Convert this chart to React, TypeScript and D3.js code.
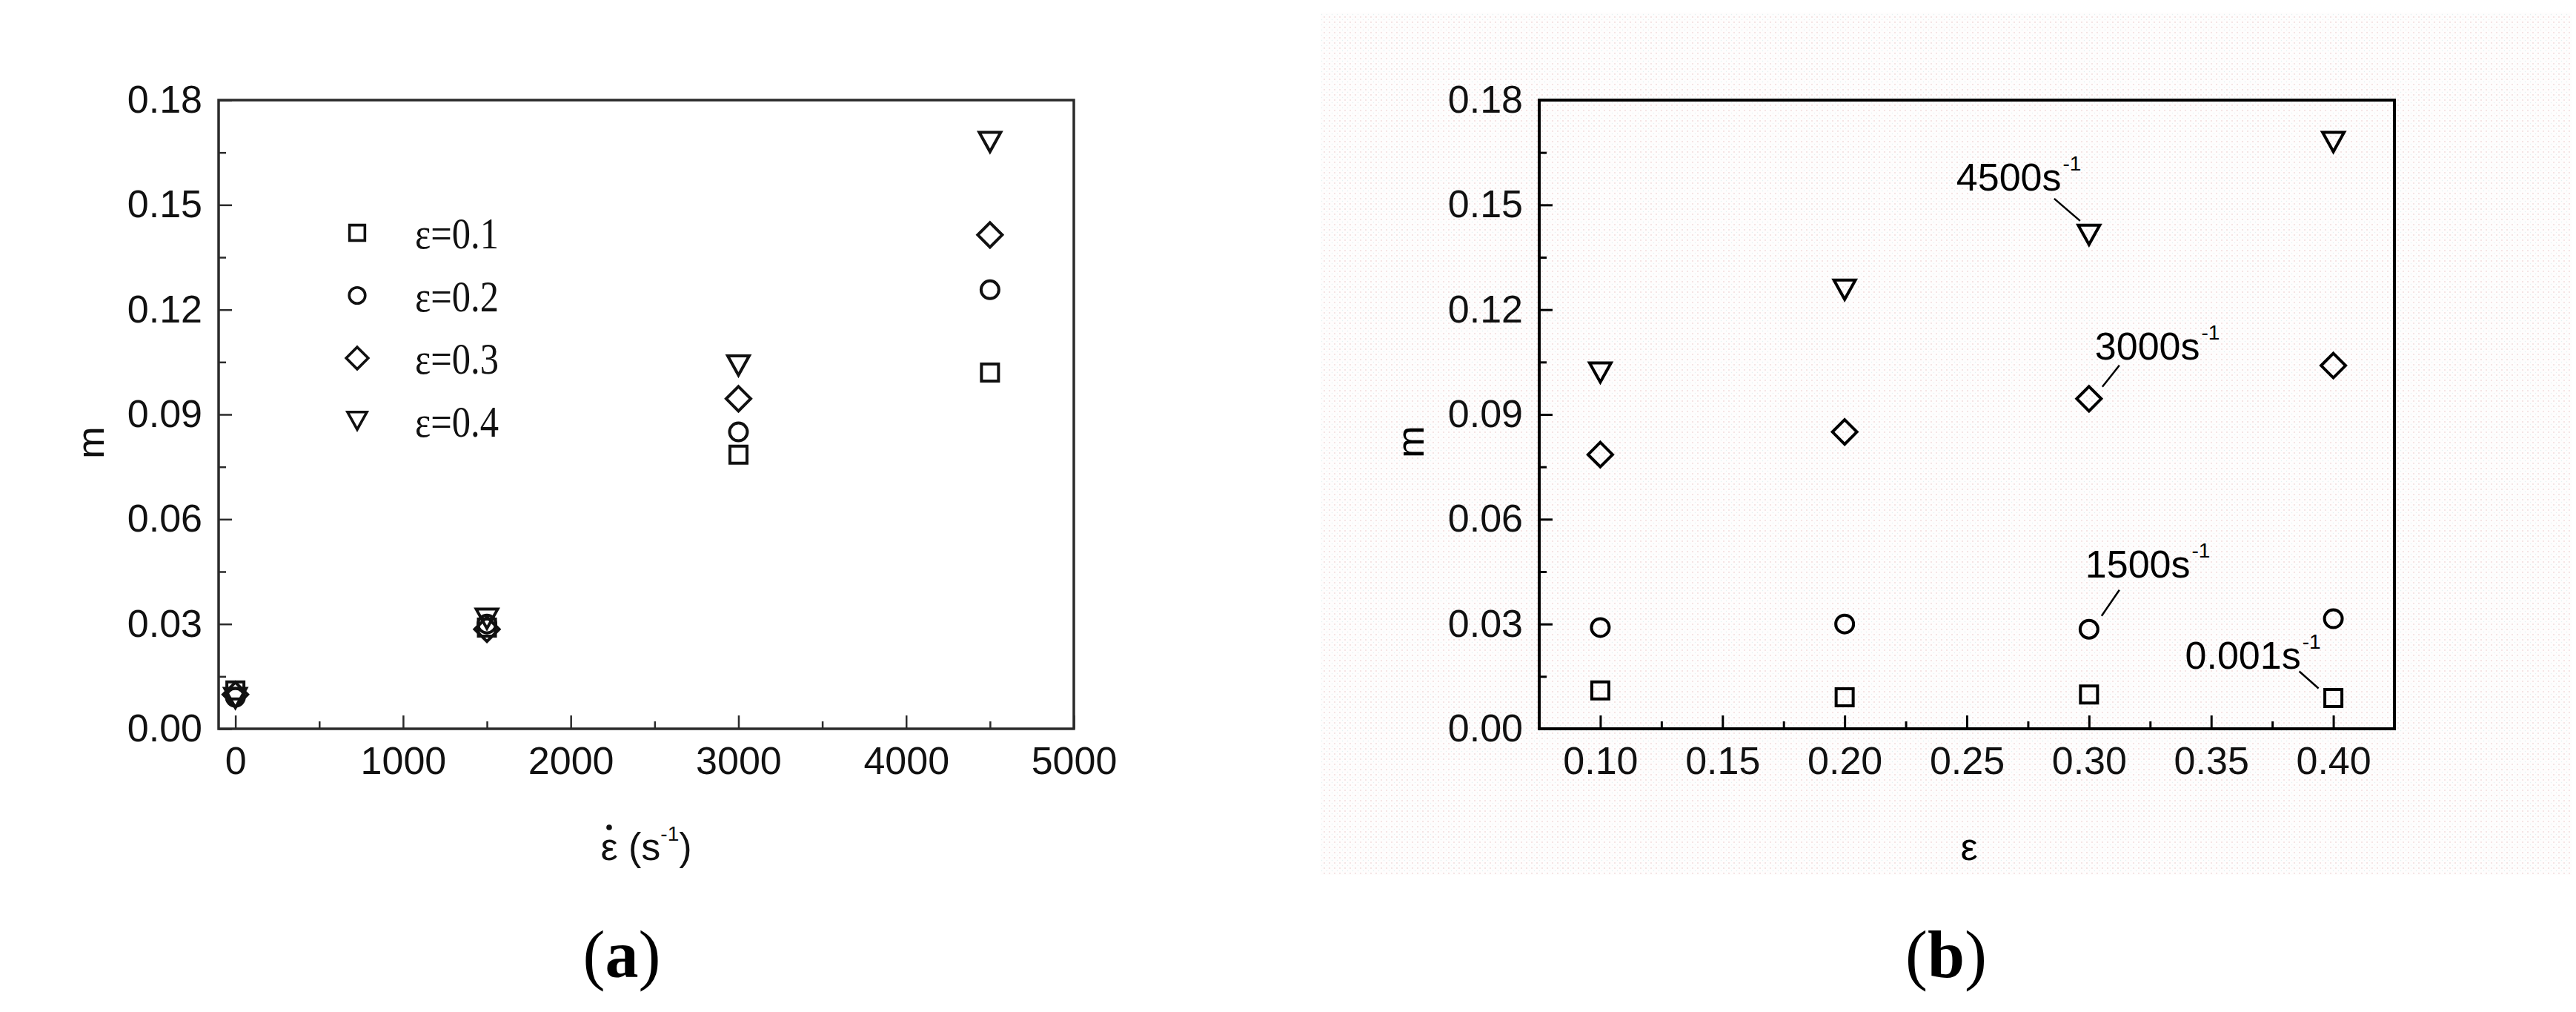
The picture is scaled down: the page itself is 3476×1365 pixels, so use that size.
import React, { useEffect, useRef } from 'react';
import * as d3 from 'd3';

// strain (ε) and strain-rate categories
const strains = [0.1, 0.2, 0.3, 0.4];
const rates = [0.001, 1500, 3000, 4500];
const rateLabels = ['0.001', '1500', '3000', '4500'];
const legendLabels = ['ε=0.1', 'ε=0.2', 'ε=0.3', 'ε=0.4'];

// strain rate sensitivity m, one array per strain rate, ordered by strain
const mRate0001 = [0.011, 0.009, 0.0098, 0.0088];
const mRate1500 = [0.029, 0.03, 0.0285, 0.0315];
const mRate3000 = [0.0785, 0.085, 0.0945, 0.104];
const mRate4500 = [0.102, 0.1257, 0.1414, 0.168];
const mByRate = [mRate0001, mRate1500, mRate3000, mRate4500];

// axis ticks
const yTicks = [0, 0.03, 0.06, 0.09, 0.12, 0.15, 0.18];
const yMinor = [0.015, 0.045, 0.075, 0.105, 0.135, 0.165];
const xTicksA = [0, 1000, 2000, 3000, 4000, 5000];
const xMinorA = [500, 1500, 2500, 3500, 4500];
const xTicksB = [0.1, 0.15, 0.2, 0.25, 0.3, 0.35, 0.4];
const xMinorB = [0.125, 0.175, 0.225, 0.275, 0.325, 0.375];

const W = 3476;
const H = 1365;
const PW = 1154;
const PH = 848;
const FONT = 'Liberation Sans, Arial, sans-serif';
const SERIF = 'Liberation Serif, Times New Roman, serif';

// hollow symbols: square, circle, diamond, down triangle
function symbolPath(kind: number): string {
  if (kind === 0) return 'M-11.5,-11.5H11.5V11.5H-11.5Z';
  if (kind === 1) {
    const p = d3.path();
    p.arc(0, 0, 12, 0, Math.PI * 2);
    p.closePath();
    return p.toString();
  }
  if (kind === 2) return 'M0,-16.5L16.5,0L0,16.5L-16.5,0Z';
  return 'M-14.5,-13H14.5L0,13Z';
}

function drawAxes(g: any, x: any, y: any, xTicks: number[], xMinor: number[], xFmt: (d: any) => string, frame: string, tickW: number) {
  const style = (s: any) => {
    s.select('.domain').remove();
    s.attr('font-size', 52).attr('font-family', FONT);
    s.selectAll('text').attr('fill', '#111');
    s.selectAll('line').attr('stroke', frame).attr('stroke-width', tickW);
  };
  g.append('g')
    .call(d3.axisLeft(y).tickValues(yTicks).tickSize(-18).tickSizeOuter(0).tickPadding(22).tickFormat(d3.format('.2f')))
    .call(style);
  g.append('g')
    .call(d3.axisLeft(y).tickValues(yMinor).tickSize(-10).tickSizeOuter(0).tickFormat(() => ''))
    .call(style);
  g.append('g')
    .attr('transform', `translate(0,${PH})`)
    .call(d3.axisBottom(x).tickValues(xTicks).tickSize(-18).tickSizeOuter(0).tickPadding(24).tickFormat(xFmt))
    .call(style);
  g.append('g')
    .attr('transform', `translate(0,${PH})`)
    .call(d3.axisBottom(x).tickValues(xMinor).tickSize(-10).tickSizeOuter(0).tickFormat(() => ''))
    .call(style);
}

export default function App() {
  const svgRef = useRef<SVGSVGElement | null>(null);

  useEffect(() => {
    document.body.style.margin = '0';
    document.body.style.overflow = 'hidden';
    const svg = d3.select(svgRef.current);
    svg.selectAll('*').remove();

    // faint dotted backdrop behind panel (b)
    const pat = svg.append('defs').append('pattern')
      .attr('id', 'dots').attr('width', 7).attr('height', 7)
      .attr('patternUnits', 'userSpaceOnUse');
    pat.append('rect').attr('width', 7).attr('height', 7).attr('fill', '#fefdfd');
    pat.append('circle').attr('cx', 2).attr('cy', 2).attr('r', 0.9).attr('fill', '#f2dada');
    pat.append('circle').attr('cx', 5.5).attr('cy', 5.5).attr('r', 0.7).attr('fill', '#e3f1f1');

    svg.append('rect').attr('width', W).attr('height', H).attr('fill', '#fff');
    svg.append('rect').attr('x', 1782).attr('y', 17).attr('width', 1688).attr('height', 1163).attr('fill', 'url(#dots)');

    // ---------- panel (a): m vs strain rate ----------
    const ga = svg.append('g').attr('transform', 'translate(295,135)');
    const xa = d3.scaleLinear().domain([-100, 5000]).range([0, PW]);
    const ya = d3.scaleLinear().domain([0, 0.18]).range([PH, 0]);
    drawAxes(ga, xa, ya, xTicksA, xMinorA, (d) => String(d), '#2b2b2b', 2.5);
    ga.append('rect').attr('width', PW).attr('height', PH)
      .attr('fill', 'none').attr('stroke', '#2b2b2b').attr('stroke-width', 3.5);

    strains.forEach((s, si) => {
      ga.append('g')
        .selectAll('path')
        .data(rates.map((r, ri) => ({ r, m: mByRate[ri][si] })))
        .join('path')
        .attr('d', symbolPath(si))
        .attr('transform', (d) => `translate(${xa(d.r)},${ya(d.m)})`)
        .attr('fill', 'none').attr('stroke', '#111').attr('stroke-width', 4);
    });

    // legend
    const lg = ga.append('g').attr('transform', `translate(${482 - 295},${314 - 135})`);
    legendLabels.forEach((lab, i) => {
      lg.append('path').attr('d', symbolPath(i))
        .attr('transform', `translate(0,${i * 84.5}) scale(0.9)`)
        .attr('fill', 'none').attr('stroke', '#111').attr('stroke-width', 4);
      lg.append('text').attr('x', 78).attr('y', i * 84.5 + 21)
        .attr('font-family', SERIF).attr('font-size', 60)
        .attr('textLength', 113).attr('lengthAdjust', 'spacingAndGlyphs')
        .attr('fill', '#111').text(lab);
    });

    ga.append('text').attr('transform', `translate(${122 - 295},${597 - 135}) rotate(-90)`)
      .attr('text-anchor', 'middle').attr('dominant-baseline', 'central')
      .attr('font-family', FONT).attr('font-size', 52).attr('fill', '#111').text('m');

    // x title with a dot over epsilon (strain rate)
    const ta = svg.append('text').attr('x', 872).attr('y', 1160)
      .attr('text-anchor', 'middle').attr('font-family', FONT).attr('font-size', 52).attr('fill', '#111');
    ta.append('tspan').text('\u03b5 (s');
    ta.append('tspan').attr('font-size', 28).attr('dy', -26).text('-1');
    ta.append('tspan').attr('dy', 26).text(')');
    const taNode = ta.node() as SVGTextElement;
    const ext = taNode.getExtentOfChar(0);
    svg.append('circle')
      .attr('cx', ext.x + ext.width / 2)
      .attr('cy', 1116)
      .attr('r', 3.8).attr('fill', '#111');

    const ca = svg.append('text').attr('x', 839).attr('y', 1318)
      .attr('text-anchor', 'middle').attr('font-family', SERIF).attr('font-size', 90).attr('fill', '#000');
    ca.append('tspan').text('(');
    ca.append('tspan').attr('font-weight', 'bold').text('a');
    ca.append('tspan').text(')');

    // ---------- panel (b): m vs strain ----------
    const gb = svg.append('g').attr('transform', 'translate(2077,135)');
    const xb = d3.scaleLinear().domain([0.075, 0.425]).range([0, PW]);
    const yb = d3.scaleLinear().domain([0, 0.18]).range([PH, 0]);
    drawAxes(gb, xb, yb, xTicksB, xMinorB, d3.format('.2f'), '#000', 3);
    gb.append('rect').attr('width', PW).attr('height', PH)
      .attr('fill', 'none').attr('stroke', '#000').attr('stroke-width', 4);

    rates.forEach((r, ri) => {
      gb.append('g')
        .selectAll('path')
        .data(strains.map((s, si) => ({ s, m: mByRate[ri][si] })))
        .join('path')
        .attr('d', symbolPath(ri))
        .attr('transform', (d) => `translate(${xb(d.s)},${yb(d.m)})`)
        .attr('fill', 'none').attr('stroke', '#000').attr('stroke-width', 4);
    });

    // annotations: which rate / strain point, label offset, leader offsets
    const notes = [
      { ri: 3, si: 2, tx: -179, ty: -60, l: [-47, -49, -12, -19] },
      { ri: 2, si: 2, tx: 8, ty: -53, l: [41, -45, 18, -16] },
      { ri: 1, si: 2, tx: -5, ty: -70, l: [41, -53, 17, -18] },
      { ri: 0, si: 3, tx: -200, ty: -40, l: [-46, -36, -20, -13] },
    ];
    notes.forEach((n) => {
      const px = xb(strains[n.si]);
      const py = yb(mByRate[n.ri][n.si]);
      gb.append('line')
        .attr('x1', px + n.l[0]).attr('y1', py + n.l[1])
        .attr('x2', px + n.l[2]).attr('y2', py + n.l[3])
        .attr('stroke', '#000').attr('stroke-width', 2.5);
      const t = gb.append('text').attr('x', px + n.tx).attr('y', py + n.ty)
        .attr('font-family', FONT).attr('font-size', 52).attr('fill', '#000');
      t.append('tspan').text(`${rateLabels[n.ri]}s`);
      t.append('tspan').attr('font-size', 28).attr('dy', -27).attr('dx', 2).text('-1');
    });

    gb.append('text').attr('transform', `translate(${1903 - 2077},${596 - 135}) rotate(-90)`)
      .attr('text-anchor', 'middle').attr('dominant-baseline', 'central')
      .attr('font-family', FONT).attr('font-size', 52).attr('fill', '#000').text('m');

    svg.append('text').attr('x', 2657).attr('y', 1160)
      .attr('text-anchor', 'middle').attr('font-family', FONT).attr('font-size', 52).attr('fill', '#000')
      .text('\u03b5');

    const cb = svg.append('text').attr('x', 2626).attr('y', 1318)
      .attr('text-anchor', 'middle').attr('font-family', SERIF).attr('font-size', 90).attr('fill', '#000');
    cb.append('tspan').text('(');
    cb.append('tspan').attr('font-weight', 'bold').text('b');
    cb.append('tspan').text(')');
  }, []);

  return (
    <svg
      ref={svgRef}
      xmlns="http://www.w3.org/2000/svg"
      width={W}
      height={H}
      viewBox={`0 0 ${W} ${H}`}
      style={{ position: 'absolute', left: 0, top: 0, display: 'block' }}
    />
  );
}
